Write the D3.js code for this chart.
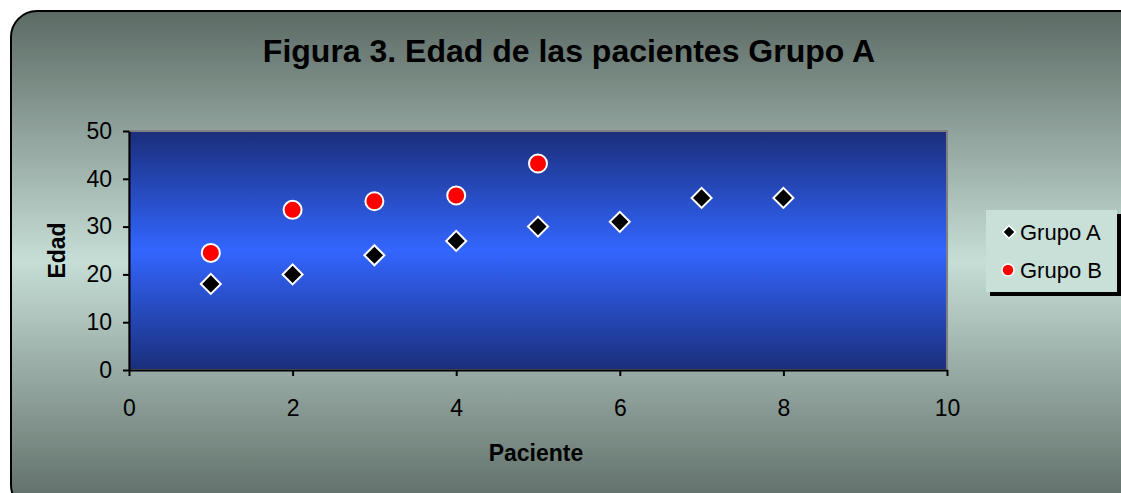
<!DOCTYPE html>
<html>
<head>
<meta charset="utf-8">
<script src="https://cdn.jsdelivr.net/npm/d3@7"></script>
<style>
  body { margin: 0; background: #fff; }
  svg { display: block; font-family: Arial, "Liberation Sans", sans-serif; }
</style>
</head>
<body>
<svg id="chart" width="1121" height="493"></svg>
<script>
// datos
const pacientesA = [1, 2, 3, 4, 5, 6, 7, 8]
const edadA = [18, 20, 24, 27, 30, 31, 36, 36]
const pacientesB = [1, 2, 3, 4, 5]
const edadB = [24.5, 33.5, 35.3, 36.5, 43.2]
const xTicks = [0, 2, 4, 6, 8, 10]
const yTicks = [0, 10, 20, 30, 40, 50]
const seriesNames = ["Grupo A", "Grupo B"]

const svg = d3.select("#chart")
const defs = svg.append("defs")

// fondo exterior
const bg = defs.append("linearGradient").attr("id", "bgGrad")
    .attr("x1", 0).attr("y1", 0).attr("x2", 0).attr("y2", 1)
bg.append("stop").attr("offset", "0%").attr("stop-color", "#5c6a64")
bg.append("stop").attr("offset", "50%").attr("stop-color", "#c6ded6")
bg.append("stop").attr("offset", "100%").attr("stop-color", "#5c6a64")

// fondo del area de trazado
const pg = defs.append("linearGradient").attr("id", "plotGrad")
    .attr("x1", 0).attr("y1", 0).attr("x2", 0).attr("y2", 1)
pg.append("stop").attr("offset", "0%").attr("stop-color", "#1a2e7a")
pg.append("stop").attr("offset", "50%").attr("stop-color", "#3366ff")
pg.append("stop").attr("offset", "100%").attr("stop-color", "#1a2e7a")

svg.append("rect")
    .attr("x", 11).attr("y", 11)
    .attr("width", 1140).attr("height", 500)
    .attr("rx", 26).attr("ry", 26)
    .attr("fill", "url(#bgGrad)")
    .attr("stroke", "#000").attr("stroke-width", 2)

const margin = {left: 129, top: 131, right: 947, bottom: 370}

const x = d3.scaleLinear().domain([0, 10]).range([margin.left, margin.right])
const y = d3.scaleLinear().domain([0, 50]).range([margin.bottom, margin.top])

svg.append("rect")
    .attr("x", x(0)).attr("y", y(50))
    .attr("width", x(10) - x(0)).attr("height", y(0) - y(50))
    .attr("fill", "url(#plotGrad)")
    .attr("stroke", "#808080").attr("stroke-width", 2)

// ejes
const xAxis = svg.append("g")
    .attr("transform", `translate(0,${y(0)})`)
    .call(d3.axisBottom(x).tickValues(xTicks).tickSize(6).tickSizeOuter(0))
const yAxis = svg.append("g")
    .attr("transform", `translate(${x(0)},0)`)
    .call(d3.axisLeft(y).tickValues(yTicks).tickSize(6).tickSizeOuter(0))

;[xAxis, yAxis].forEach(g => {
    g.attr("font-size", 23).attr("font-family", "Arial, 'Liberation Sans', sans-serif")
    g.select(".domain").attr("stroke", "#000").attr("stroke-width", 2)
    g.selectAll(".tick line").attr("stroke", "#000").attr("stroke-width", 2)
    g.selectAll(".tick text").attr("fill", "#000")
})
xAxis.selectAll(".tick text").attr("y", 30).attr("dy", "0.71em")
yAxis.selectAll(".tick text").attr("x", -17)

// marcadores
const diamond = d3.symbol().type(d3.symbolSquare).size(200)
svg.append("g").selectAll("path")
    .data(pacientesA.map((p, i) => [p, edadA[i]]))
    .join("path")
    .attr("d", diamond)
    .attr("transform", d => `translate(${x(d[0])},${y(d[1])}) rotate(45)`)
    .attr("fill", "#000")
    .attr("stroke", "#fff").attr("stroke-width", 2)

svg.append("g").selectAll("circle")
    .data(pacientesB.map((p, i) => [p, edadB[i]]))
    .join("circle")
    .attr("cx", d => x(d[0])).attr("cy", d => y(d[1]))
    .attr("r", 9)
    .attr("fill", "#ff0000")
    .attr("stroke", "#fff").attr("stroke-width", 2)

// titulos
svg.append("text")
    .attr("x", 569).attr("y", 62)
    .attr("text-anchor", "middle")
    .attr("font-size", 32).attr("font-weight", "bold")
    .text("Figura 3. Edad de las pacientes Grupo A")

svg.append("text")
    .attr("x", 536).attr("y", 461)
    .attr("text-anchor", "middle")
    .attr("font-size", 23).attr("font-weight", "bold")
    .text("Paciente")

svg.append("text")
    .attr("transform", `translate(65,${(y(0) + y(50)) / 2}) rotate(-90)`)
    .attr("text-anchor", "middle")
    .attr("font-size", 23).attr("font-weight", "bold")
    .text("Edad")

// leyenda
const lg = svg.append("g").attr("transform", "translate(986,210)")
lg.append("rect").attr("x", 4).attr("y", 4).attr("width", 131).attr("height", 82).attr("fill", "#000")
lg.append("rect").attr("x", 0).attr("y", 0).attr("width", 131).attr("height", 82).attr("fill", "#c8e0d8")

seriesNames.forEach((name, i) => {
    const cy = 22 + i * 38
    if (i === 0) {
        lg.append("path")
            .attr("d", d3.symbol().type(d3.symbolSquare).size(80))
            .attr("transform", `translate(23,${cy}) rotate(45)`)
            .attr("fill", "#000").attr("stroke", "#fff").attr("stroke-width", 1.5)
    } else {
        lg.append("circle").attr("cx", 22).attr("cy", cy).attr("r", 6)
            .attr("fill", "#ff0000").attr("stroke", "#fff").attr("stroke-width", 1.5)
    }
    lg.append("text")
        .attr("x", 34).attr("y", cy + 8)
        .attr("font-size", 22)
        .text(name)
})
</script>
</body>
</html>
